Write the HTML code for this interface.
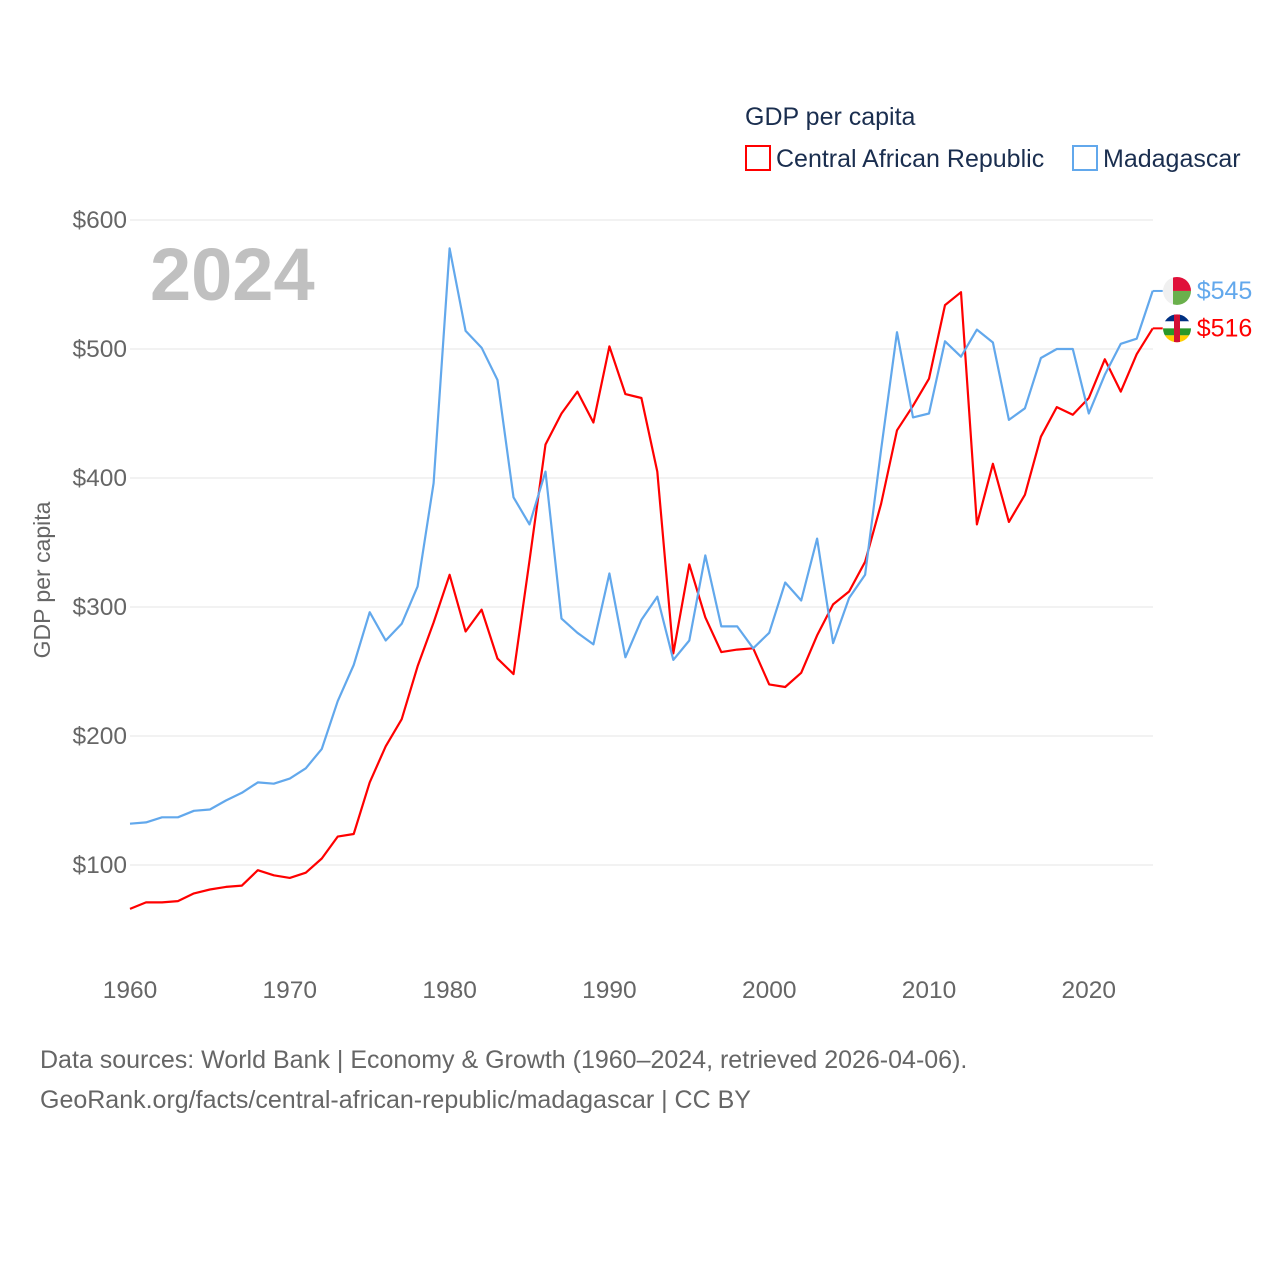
<!DOCTYPE html>
<html><head><meta charset="utf-8">
<style>
body{margin:0;background:#fff;width:1280px;height:1280px;overflow:hidden;font-family:"Liberation Sans",sans-serif}
svg text{font-family:"Liberation Sans",sans-serif}
</style></head>
<body>
<svg id="chart" width="1280" height="1280">
<defs>
<clipPath id="c1"><circle cx="1177" cy="291" r="14"/></clipPath>
<clipPath id="c2"><circle cx="1177" cy="328" r="14"/></clipPath>
</defs>
<text x="745" y="125" font-size="25" fill="#1a2e4f">GDP per capita</text>
<rect x="746" y="146" width="24" height="24" fill="none" stroke="#ff0000" stroke-width="2"/>
<text x="776" y="167" font-size="25" fill="#1a2e4f">Central African Republic</text>
<rect x="1073" y="146" width="24" height="24" fill="none" stroke="#62a8ec" stroke-width="2"/>
<text x="1103" y="167" font-size="25" fill="#1a2e4f">Madagascar</text>
<text x="150" y="300" font-size="74" font-weight="bold" fill="#c0c0c0">2024</text>
<text transform="translate(50,580) rotate(-90)" text-anchor="middle" font-size="23" fill="#666">GDP per capita</text>
<g id="grid"></g><g id="series"></g>
<text x="40" y="1068" font-size="25" fill="#666">Data sources: World Bank | Economy &amp; Growth (1960–2024, retrieved 2026-04-06).</text>
<text x="40" y="1108" font-size="25" fill="#666">GeoRank.org/facts/central-african-republic/madagascar | CC BY</text>
</svg>
<script>
const years=[];for(let y=1960;y<=2024;y++)years.push(y);
const madagascar=[132,133,137,137,142,143,150,156,164,163,167,175,190,227,255,296,274,287,316,396,578,514,501,476,385,364,405,291,280,271,326,261,290,308,259,274,340,285,285,268,280,319,305,353,272,307,325,422,513,447,450,506,494,515,505,445,454,493,500,500,450,480,504,508,545];
const car=[66,71,71,72,78,81,83,84,96,92,90,94,105,122,124,164,192,213,254,288,325,281,298,260,248,336,426,450,467,443,502,465,462,405,264,333,292,265,267,268,240,238,249,278,302,312,335,380,437,456,477,534,544,364,411,366,387,432,455,449,462,492,467,496,516];
const yTicks=[100,200,300,400,500,600];
const xTicks=[1960,1970,1980,1990,2000,2010,2020];
const xs=y=>130+(y-1960)*15.98;
const ys=v=>865-(v-100)*1.29;
const NS="http://www.w3.org/2000/svg";
const grid=document.getElementById('grid'),ser=document.getElementById('series');
function mk(tag,attrs,parent,txt){const e=document.createElementNS(NS,tag);for(const k in attrs)e.setAttribute(k,attrs[k]);if(txt!==undefined)e.textContent=txt;parent.appendChild(e);return e;}
yTicks.forEach(v=>{
 const l=mk('line',{x1:130,x2:1153,y1:ys(v),y2:ys(v),stroke:'#e6e6e6','stroke-width':1},grid);
 
 
 const t=mk('text',{x:127,y:ys(v)+8,'text-anchor':'end','font-size':24.5,fill:'#666'},grid,'$'+v);
 
 
});
xTicks.forEach(y=>{
 const t=mk('text',{x:xs(y),y:998,'text-anchor':'middle','font-size':24.5,fill:'#666'},grid,String(y));
 
 
});
function line(data,color,name,clip){
 const d=data.map((v,i)=>(i?'L':'M')+xs(years[i]).toFixed(1)+','+ys(v).toFixed(1)).join('');
 const p=mk('path',{d:d,fill:'none',stroke:color,'stroke-width':2.2,'stroke-linejoin':'round'},ser);
 
 
 const last=data[data.length-1],lx=xs(years[years.length-1]),ly=ys(last);
 const s=mk('line',{x1:lx,x2:lx+10,y1:ly,y2:ly,stroke:color,'stroke-width':2},ser);
 
 
 const g=mk('g',{transform:'translate(0,'+(ly-(name==='car'?328:291))+')'},ser);
 
 
 if(name==='car'){
  const gg=mk('g',{'clip-path':'url(#c2)'},g);
  mk('rect',{x:1163,y:314,width:28,height:7,fill:'#003082'},gg);
  mk('rect',{x:1163,y:321,width:28,height:7,fill:'#fff'},gg);
  mk('rect',{x:1163,y:328,width:28,height:7,fill:'#289728'},gg);
  mk('rect',{x:1163,y:335,width:28,height:7,fill:'#ffce00'},gg);
  mk('rect',{x:1174,y:314,width:6,height:28,fill:'#d21034'},gg);
 } else {
  const gg=mk('g',{'clip-path':'url(#c1)'},g);
  mk('rect',{x:1163,y:277,width:10,height:28,fill:'#f0f0f0'},gg);
  mk('rect',{x:1173,y:277,width:18,height:14,fill:'#e0103a'},gg);
  mk('rect',{x:1173,y:291,width:18,height:14,fill:'#6ab04c'},gg);
 }
 const t=mk('text',{x:lx+44,y:ly+8,'font-size':25,fill:color},ser,'$'+last);
 
 
}
line(car,'#ff0000','car');
line(madagascar,'#62a8ec','madagascar');
</script>
</body></html>
